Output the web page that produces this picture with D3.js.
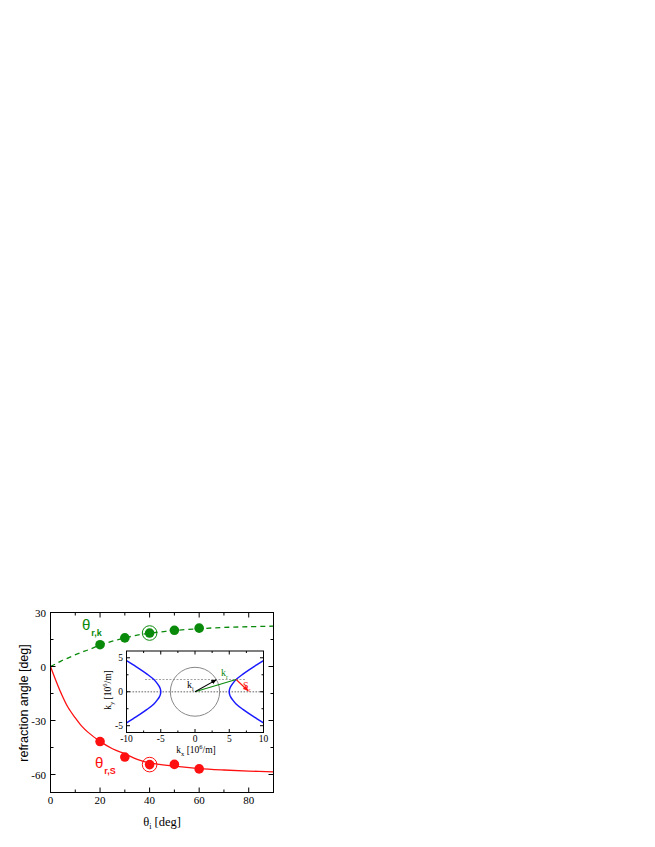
<!DOCTYPE html>
<html>
<head>
<meta charset="utf-8">
<script src="https://cdn.jsdelivr.net/npm/d3@7"></script>
<style>
  body { margin: 0; background: #fff; }
  svg { display: block; }
  .serif { font-family: "Liberation Serif", "DejaVu Serif", serif; }
  .sans { font-family: "Liberation Sans", Arial, sans-serif; }
</style>
</head>
<body>
<svg id="chart" width="655" height="847"></svg>
<script>
// main panel data: incidence angle vs refraction angle
const thetaI = [20, 30, 40, 50, 60];
const thetaRk = [12.1, 15.9, 18.6, 20.1, 21.3];
const thetaRS = [-41.7, -50.3, -54.5, -54.4, -56.9];
const highlightAngle = 40;

// fitted curves
const fitX = [0, 2, 4.4, 7, 9.8, 12.5, 15.2, 20, 25, 30, 35, 40, 50, 60, 70, 80, 90];
const fitRS = [0, -7.2, -15.2, -22.5, -28.2, -33, -36.6, -41.6, -45.7, -48.5, -51.6, -53.6, -55.4, -56.7, -57.5, -58.1, -58.5];
const fitRk = [0, 1.4, 3.1, 4.7, 6.4, 7.9, 9.2, 11.9, 14.1, 15.9, 17.4, 18.5, 20.0, 21.0, 21.7, 22.1, 22.4];

const xTicks = [0, 20, 40, 60, 80];
const yTicks = [-60, -30, 0, 30];

// inset: iso-frequency curve (right branch), left branch is its mirror
const hypKx = [10, 9, 8, 7, 6, 5.5, 5.2, 5.05, 5, 5.05, 5.2, 5.5, 6, 7, 8, 9, 10];
const hypKy = [4.6, 3.95, 3.3, 2.6, 1.8, 1.2, 0.75, 0.38, 0, -0.38, -0.75, -1.2, -1.8, -2.6, -3.3, -3.95, -4.6];
const circleR = 3.6;
const kiTip = [3.1, 1.75];
const krTip = [6.0, 1.8];
const srTip = [7.75, 0.15];
const upperLineKy = 1.8;
const upperLineSpan = [-7.3, 7.3];
const insetXTicks = [-10, -5, 0, 5, 10];
const insetYTicks = [-5, 0, 5];

const GREEN = '#0a8a0a';
const RED = '#ff1010';
const BLUE = '#1a1aff';

const svg = d3.select('#chart');

const x = d3.scaleLinear().domain([0, 90]).range([50.5, 273.5]);
const y = d3.scaleLinear().domain([-70, 30]).range([792.5, 612.5]);

// Helper: frame with inward ticks on all four sides
function drawFrame(g, xs, ys, xMajor, xMinor, yMajor, yMinor, tick, minorTick) {
    const [x0, x1] = xs.range();
    const [y0, y1] = ys.range(); // y0 bottom, y1 top
    g.append('rect')
        .attr('x', x0).attr('y', y1)
        .attr('width', x1 - x0).attr('height', y0 - y1)
        .attr('fill', 'none').attr('stroke', '#000').attr('stroke-width', 1);

    const ticks = g.append('g').attr('stroke', '#000').attr('stroke-width', 1);
    const addX = (vals, len) => vals.forEach(v => {
        ticks.append('line').attr('x1', xs(v)).attr('x2', xs(v)).attr('y1', y0).attr('y2', y0 - len);
        ticks.append('line').attr('x1', xs(v)).attr('x2', xs(v)).attr('y1', y1).attr('y2', y1 + len);
    });
    const addY = (vals, len) => vals.forEach(v => {
        ticks.append('line').attr('y1', ys(v)).attr('y2', ys(v)).attr('x1', x0).attr('x2', x0 + len);
        ticks.append('line').attr('y1', ys(v)).attr('y2', ys(v)).attr('x1', x1).attr('x2', x1 - len);
    });
    addX(xMajor, tick); addX(xMinor, minorTick);
    addY(yMajor, tick); addY(yMinor, minorTick);
}

// ---- main panel ----
const main = svg.append('g');

const lineGen = d3.line().x(d => x(d[0])).y(d => y(d[1])).curve(d3.curveCatmullRom);

main.append('path')
    .datum(d3.zip(fitX, fitRk))
    .attr('d', lineGen)
    .attr('fill', 'none').attr('stroke', GREEN).attr('stroke-width', 1.3)
    .attr('stroke-dasharray', '5,4');

main.append('path')
    .datum(d3.zip(fitX, fitRS))
    .attr('d', lineGen)
    .attr('fill', 'none').attr('stroke', RED).attr('stroke-width', 1.3);

drawFrame(main, x, y, xTicks, [10, 30, 50, 70], yTicks, [-45, -15, 15], 5, 3);

main.selectAll('.xlab').data(xTicks).enter().append('text')
    .attr('class', 'serif')
    .attr('x', d => x(d)).attr('y', 804)
    .attr('text-anchor', 'middle').attr('font-size', 11)
    .text(d => d);

main.selectAll('.ylab').data(yTicks).enter().append('text')
    .attr('class', 'serif')
    .attr('x', 46).attr('y', d => y(d) + 4)
    .attr('text-anchor', 'end').attr('font-size', 11)
    .text(d => d);

main.append('text')
    .attr('class', 'sans')
    .attr('transform', 'translate(28,703) rotate(-90)')
    .attr('text-anchor', 'middle').attr('font-size', 12.5)
    .text('refraction angle [deg]');

const xl = main.append('text').attr('class', 'serif')
    .attr('x', 162).attr('y', 826).attr('text-anchor', 'middle').attr('font-size', 12.5);
xl.append('tspan').text('θ');
xl.append('tspan').attr('font-size', 8).attr('dy', 3).text('i');
xl.append('tspan').attr('dy', -3).text(' [deg]');

// ---- inset ----
const ix = d3.scaleLinear().domain([-10, 10]).range([126.5, 263.5]);
const iy = d3.scaleLinear().domain([-6, 6]).range([732.5, 651]);
const inset = svg.append('g');

inset.append('rect')
    .attr('x', ix(-10)).attr('y', iy(6))
    .attr('width', ix(10) - ix(-10)).attr('height', iy(-6) - iy(6))
    .attr('fill', '#fff');

inset.append('line')
    .attr('x1', ix(-10)).attr('x2', ix(10)).attr('y1', iy(0)).attr('y2', iy(0))
    .attr('stroke', '#999').attr('stroke-width', 1.6).attr('stroke-dasharray', '1.6,1.4');
inset.append('line')
    .attr('x1', ix(upperLineSpan[0])).attr('x2', ix(upperLineSpan[1]))
    .attr('y1', iy(upperLineKy)).attr('y2', iy(upperLineKy))
    .attr('stroke', '#888').attr('stroke-width', 0.8).attr('stroke-dasharray', '2,1.5');

inset.append('ellipse')
    .attr('cx', ix(0)).attr('cy', iy(0))
    .attr('rx', ix(circleR) - ix(0)).attr('ry', iy(0) - iy(circleR))
    .attr('fill', 'none').attr('stroke', '#888').attr('stroke-width', 1);

const hypLine = d3.line().x(d => ix(d[0])).y(d => iy(d[1])).curve(d3.curveCatmullRom);
[1, -1].forEach(s => {
    inset.append('path')
        .datum(d3.zip(hypKx.map(v => s * v), hypKy))
        .attr('d', hypLine)
        .attr('fill', 'none').attr('stroke', BLUE).attr('stroke-width', 1.5);
});

const defs = svg.append('defs');
[['arrK', '#000'], ['arrS', RED]].forEach(([id, c]) => {
    defs.append('marker').attr('id', id)
        .attr('viewBox', '0 0 10 10').attr('refX', 9).attr('refY', 5)
        .attr('markerWidth', 5).attr('markerHeight', 5).attr('orient', 'auto')
        .append('path').attr('d', 'M0,1 L10,5 L0,9 Z').attr('fill', c);
});

inset.append('line')
    .attr('x1', ix(0)).attr('y1', iy(0)).attr('x2', ix(krTip[0])).attr('y2', iy(krTip[1]))
    .attr('stroke', GREEN).attr('stroke-width', 1.1);
inset.append('line')
    .attr('x1', ix(0)).attr('y1', iy(0)).attr('x2', ix(kiTip[0])).attr('y2', iy(kiTip[1]))
    .attr('stroke', '#000').attr('stroke-width', 1.1).attr('marker-end', 'url(#arrK)');
inset.append('line')
    .attr('x1', ix(krTip[0])).attr('y1', iy(krTip[1])).attr('x2', ix(srTip[0])).attr('y2', iy(srTip[1]))
    .attr('stroke', RED).attr('stroke-width', 1.1).attr('marker-end', 'url(#arrS)');

function subLabel(g, px, py, main, sub, color, size) {
    const t = g.append('text').attr('class', 'serif')
        .attr('x', px).attr('y', py).attr('fill', color).attr('font-size', size);
    t.append('tspan').text(main);
    t.append('tspan').attr('font-size', size * 0.6).attr('dy', 2.5).text(sub);
    return t;
}
subLabel(inset, 187, 688, 'k', 'i', '#000', 10);
subLabel(inset, 221, 676, 'k', 'r', GREEN, 10);
subLabel(inset, 243, 689, 'S', 'r', RED, 10);

drawFrame(inset, ix, iy, insetXTicks, [-7.5, -2.5, 2.5, 7.5], insetYTicks, [-2.5, 2.5], 3.5, 2);

inset.selectAll('.ixlab').data(insetXTicks).enter().append('text')
    .attr('class', 'serif')
    .attr('x', d => ix(d)).attr('y', 742)
    .attr('text-anchor', 'middle').attr('font-size', 9.5)
    .text(d => d);
inset.selectAll('.iylab').data(insetYTicks).enter().append('text')
    .attr('class', 'serif')
    .attr('x', 123).attr('y', d => iy(d) + 3.5)
    .attr('text-anchor', 'end').attr('font-size', 9.5)
    .text(d => d);

const kxl = inset.append('text').attr('class', 'serif')
    .attr('x', 196).attr('y', 753).attr('text-anchor', 'middle').attr('font-size', 9.5);
kxl.append('tspan').text('k');
kxl.append('tspan').attr('font-size', 6.5).attr('dy', 2.5).text('x');
kxl.append('tspan').attr('dy', -2.5).text(' [10');
kxl.append('tspan').attr('font-size', 6.5).attr('dy', -4).text('6');
kxl.append('tspan').attr('dy', 4).text('/m]');

const kyl = inset.append('text').attr('class', 'serif')
    .attr('transform', 'translate(111,690) rotate(-90)')
    .attr('text-anchor', 'middle').attr('font-size', 9.5);
kyl.append('tspan').text('k');
kyl.append('tspan').attr('font-size', 6.5).attr('dy', 2.5).text('y');
kyl.append('tspan').attr('dy', -2.5).text(' [10');
kyl.append('tspan').attr('font-size', 6.5).attr('dy', -4).text('6');
kyl.append('tspan').attr('dy', 4).text('/m]');

// ---- data points (on top) ----
const pts = svg.append('g');
[[thetaRk, GREEN], [thetaRS, RED]].forEach(([vals, c]) => {
    pts.selectAll(null).data(d3.zip(thetaI, vals)).enter().append('circle')
        .attr('cx', d => x(d[0])).attr('cy', d => y(d[1])).attr('r', 4.8)
        .attr('fill', c);
    const hv = vals[thetaI.indexOf(highlightAngle)];
    pts.append('circle')
        .attr('cx', x(highlightAngle)).attr('cy', y(hv)).attr('r', 7.3)
        .attr('fill', 'none').attr('stroke', c).attr('stroke-width', 1);
});

// series labels
function seriesLabel(px, py, sub, c) {
    const t = svg.append('text').attr('class', 'sans')
        .attr('x', px).attr('y', py).attr('fill', c);
    t.append('tspan').attr('font-size', 15).text('θ');
    t.append('tspan').attr('font-size', 9).attr('font-weight', 'bold').attr('dx', 1).attr('dy', 6).text(sub);
}
seriesLabel(82, 630, 'r,k', GREEN);
seriesLabel(95, 768, 'r,S', RED);
</script>
</body>
</html>
